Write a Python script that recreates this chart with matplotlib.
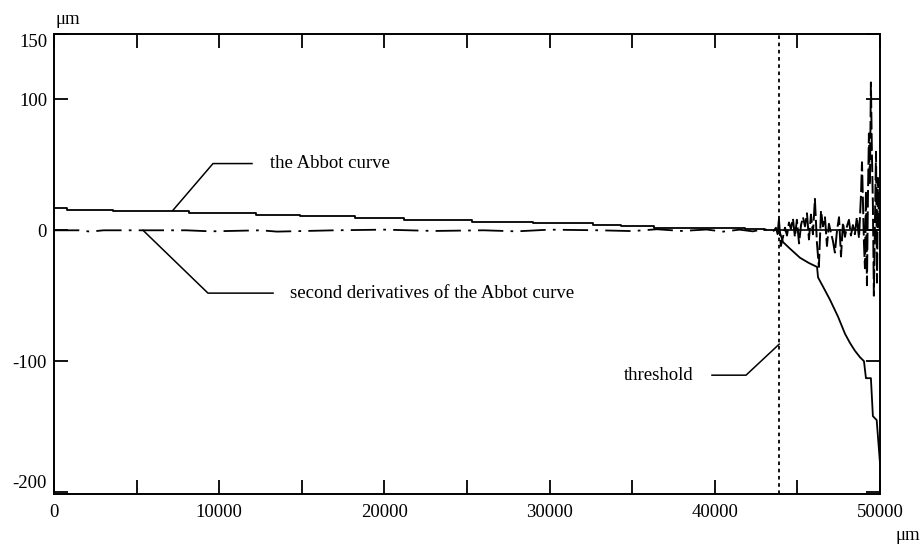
import numpy as np
import matplotlib.pyplot as plt
from matplotlib.ticker import MultipleLocator, FuncFormatter

plt.rcParams['font.family'] = ['Liberation Serif', 'DejaVu Serif']
plt.rcParams['font.size'] = 13.5

# Abbot curve, stepped part (um, um)
abbot_step_x = [0, 800, 3600, 8200, 12200, 14900, 18200, 21200, 25300, 29000,
                32600, 34300, 36300, 39100, 41800, 43000, 43900]
abbot_step_y = [16.8, 15.3, 14.5, 13.2, 12.0, 11.3, 9.7, 8.2, 6.4, 5.6,
                4.3, 3.3, 1.8, 1.5, 0.8, 0.3, 0.0]

# Abbot curve, tail past the threshold
abbot_tail_x = [43900, 43950, 44130, 44550, 45160, 45700, 46190, 46250, 46550,
                46970, 47460, 47880, 48180, 48480, 48790, 49030, 49150, 49450,
                49570, 49800, 50000]
abbot_tail_y = [0.0, -2, -9, -14, -21, -25, -28, -36, -43,
                -53, -66, -79, -86, -92, -97, -100, -113, -113,
                -142, -145, -178]

# second derivatives of the Abbot curve
d2_x = [0, 1500, 2200, 3000, 5000, 8000, 9500, 12500, 13500, 17000, 20000,
        23000, 26000, 28000, 30000, 33000, 35000, 36500, 38000, 39500, 40500,
        41500, 42300, 43000, 43500, 43700, 43800, 43880,
        43950, 44000, 44130, 44250, 44370, 44490, 44610, 44730, 44850, 44970,
        45100, 45220, 45340, 45460, 45580, 45700, 45820, 45940, 46060, 46180,
        46300, 46430, 46550, 46670, 46790, 46910, 47030, 47150, 47270, 47400,
        47520, 47640, 47760, 47880, 48000, 48120, 48240, 48360, 48480, 48600,
        48730, 48850, 48910, 49030, 49090, 49150, 49210, 49270, 49330, 49390,
        49450, 49510, 49570, 49630, 49700, 49760, 49820, 49880, 49940, 50000]
d2_y = [0, 0, -1, 0, 0, 0, -0.8, 0, -1, 0, 0.5,
        -0.5, 0, -0.8, 0.5, 0, -0.6, 0.8, -0.5, 0.6, -1,
        0.5, -0.8, 1, -1.5, 2, -3, 9,
        -4, -12, -5, 2, -4, 6, 1, 9, -5, 8,
        -10, 4, 10, 3, 13, -7, 12, -3, 24, -9,
        -28, 15, 3, 10, -12, 5, -2, -8, -17, 0,
        10, -20, 6, -5, 3, 8, -4, 4, -3, 10,
        -6, 27, 52, -10, -29, 30, -42, 25, 74, 35,
        113, 60, 20, -50, 10, 60, -40, 40, 5, 0]

threshold = 43900

d2_x = np.array(d2_x)
d2_y = np.array(d2_y)
pre = d2_x <= threshold
post = d2_x >= d2_x[pre][-1]

fig = plt.figure(figsize=(9.23, 5.44), dpi=100)
ax = fig.add_axes([0.0585, 0.0919, 0.8949, 0.8456])

ax.step(abbot_step_x, abbot_step_y, where='post', color='black', lw=1.3)
ax.plot(abbot_tail_x, abbot_tail_y, color='black', lw=1.3)

ax.plot(d2_x[pre], d2_y[pre], color='black', lw=1.3,
        linestyle=(0, (14, 4, 1.5, 4)))
ax.plot(d2_x[post], d2_y[post], color='black', lw=1.4,
        linestyle=(0, (9, 2)))

# zero line after the threshold
ax.plot([threshold, 50000], [0, 0], color='black', lw=1.2)

ax.axvline(threshold, color='black', lw=1.3, linestyle=(0, (2, 2)))

# leader lines and labels
ax.plot([7200, 9625, 11985], [15.3, 51, 51], color='black', lw=1.1)
ax.text(13100, 51, 'the Abbot curve', va='center', ha='left')

ax.plot([5390, 9320, 13260], [0, -48, -48], color='black', lw=1.1)
ax.text(14300, -48, 'second derivatives of the Abbot curve',
        va='center', ha='left')

ax.plot([threshold, 41890, 39830], [-87, -110.7, -110.7], color='black', lw=1.1)
ax.text(38700, -110.7, 'threshold', va='center', ha='right')

ax.set_xlim(0, 50000)
ax.set_ylim(-201.5, 150)

ax.xaxis.set_major_locator(MultipleLocator(5000))
ax.xaxis.set_major_formatter(
    FuncFormatter(lambda v, p: f'{int(v)}' if v % 10000 == 0 else ''))
ax.set_yticks([-200, -100, 0, 100, 150])
ax.set_yticklabels(['-200', '-100', '0', '100', '150'])

ax.tick_params(direction='in', length=10, width=1.3, top=True, right=True,
               labelsize=13.5)
ax.tick_params(axis='x', pad=7)
ax.tick_params(axis='y', pad=5)
for s in ax.spines.values():
    s.set_linewidth(1.4)

# end labels sit inside the frame
ylabels = ax.get_yticklabels()
ylabels[0].set_va('bottom')
ylabels[-1].set_va('top')

fig.text(0.060, 0.965, 'μm', ha='left', va='center')
fig.text(0.970, 0.015, 'μm', ha='left', va='center')

plt.savefig('out.png', dpi=100)
